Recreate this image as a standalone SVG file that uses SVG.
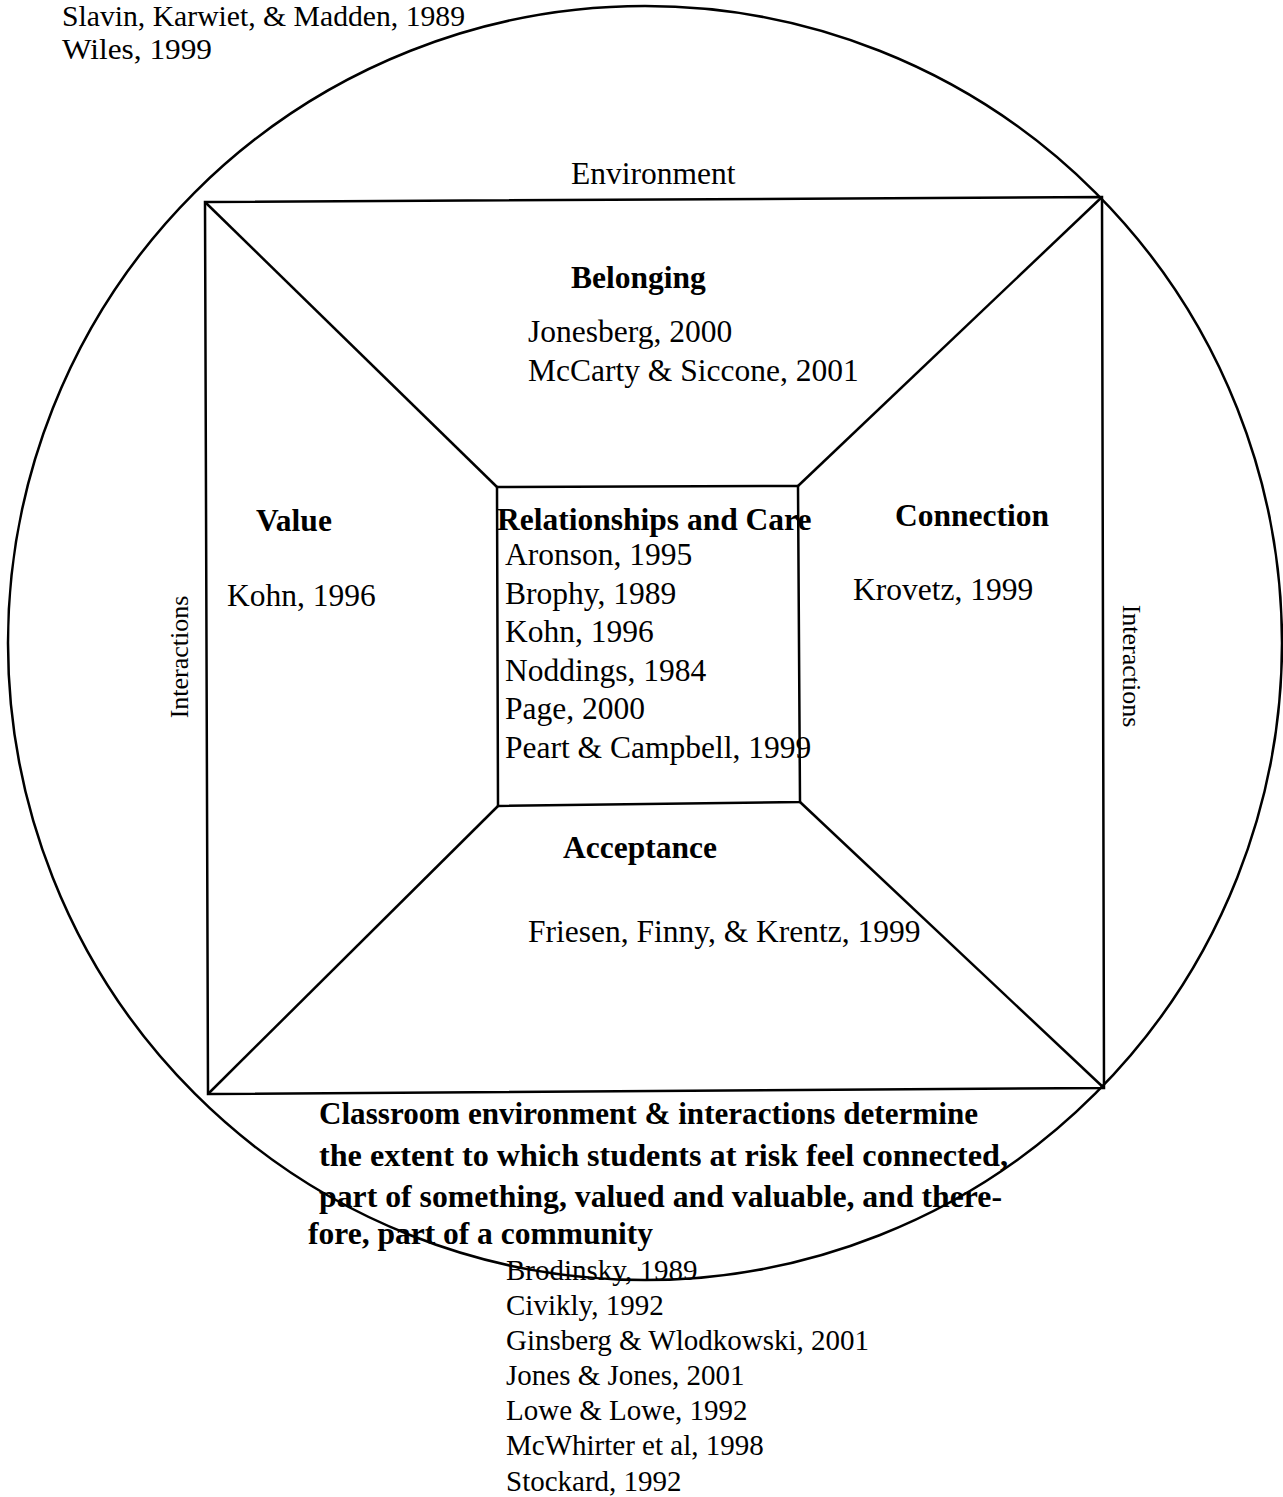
<svg xmlns="http://www.w3.org/2000/svg" width="1283" height="1497" viewBox="0 0 1283 1497">
<style>
.ln{stroke:#000;stroke-width:2.5;fill:none}
.t{font-family:"Liberation Serif","Times New Roman",serif;font-size:31.5px;fill:#000}
.b{font-family:"Liberation Serif","Times New Roman",serif;font-size:31.5px;font-weight:bold;fill:#000}
.s{font-family:"Liberation Serif","Times New Roman",serif;font-size:29px;fill:#000}
.r{font-family:"Liberation Serif","Times New Roman",serif;font-size:26px;fill:#000}
</style>
<rect width="1283" height="1497" fill="#fff"/>
<g id="connectors">
<ellipse class="ln" cx="645" cy="643" rx="637" ry="637"/>
<polygon class="ln" points="205,202 1102,197 1104,1088 208,1094"/>
<line class="ln" x1="205" y1="202" x2="497" y2="487"/>
<line class="ln" x1="1102" y1="197" x2="798" y2="486"/>
<line class="ln" x1="1104" y1="1088" x2="800" y2="802"/>
<line class="ln" x1="208" y1="1094" x2="498" y2="806"/>
</g>
<g id="center-box">
<polygon class="ln" points="497,487 798,486 800,802 498,806"/>
<text class="b" x="497" y="530">Relationships and Care</text>
<text class="t" x="505" y="565">Aronson, 1995</text>
<text class="t" x="505" y="604">Brophy, 1989</text>
<text class="t" x="505" y="642">Kohn, 1996</text>
<text class="t" x="505" y="681">Noddings, 1984</text>
<text class="t" x="505" y="719">Page, 2000</text>
<text class="t" x="505" y="758">Peart &amp; Campbell, 1999</text>
</g>
<g id="top-refs">
<text class="s" x="62" y="26" textLength="403" lengthAdjust="spacingAndGlyphs">Slavin, Karwiet, &amp; Madden, 1989</text>
<text class="s" x="62" y="59" textLength="150" lengthAdjust="spacingAndGlyphs">Wiles, 1999</text>
</g>
<g id="environment">
<text class="t" x="571" y="184">Environment</text>
</g>
<g id="belonging">
<text class="b" x="571" y="288">Belonging</text>
<text class="t" x="528" y="342">Jonesberg, 2000</text>
<text class="t" x="528" y="381">McCarty &amp; Siccone, 2001</text>
</g>
<g id="value">
<text class="b" x="256" y="531">Value</text>
<text class="t" x="227" y="606">Kohn, 1996</text>
</g>
<g id="connection">
<text class="b" x="895" y="526">Connection</text>
<text class="t" x="853" y="600">Krovetz, 1999</text>
</g>
<g id="acceptance">
<text class="b" x="563" y="858">Acceptance</text>
<text class="t" x="528" y="942">Friesen, Finny, &amp; Krentz, 1999</text>
</g>
<g id="interactions-left">
<text class="r" text-anchor="middle" transform="translate(188,657) rotate(-90)">Interactions</text>
</g>
<g id="interactions-right">
<text class="r" text-anchor="middle" transform="translate(1123,666) rotate(90)">Interactions</text>
</g>
<g id="summary">
<text class="b" x="319" y="1124" textLength="659" lengthAdjust="spacingAndGlyphs">Classroom environment &amp; interactions determine</text>
<text class="b" x="319" y="1166" textLength="689" lengthAdjust="spacingAndGlyphs">the extent to which students at risk feel connected,</text>
<text class="b" x="319" y="1207" textLength="683" lengthAdjust="spacingAndGlyphs">part of something, valued and valuable, and there-</text>
<text class="b" x="308" y="1244" textLength="345" lengthAdjust="spacingAndGlyphs">fore, part of a community</text>
</g>
<g id="bottom-refs">
<text class="s" x="506" y="1280">Brodinsky, 1989</text>
<text class="s" x="506" y="1315">Civikly, 1992</text>
<text class="s" x="506" y="1350">Ginsberg &amp; Wlodkowski, 2001</text>
<text class="s" x="506" y="1385">Jones &amp; Jones, 2001</text>
<text class="s" x="506" y="1420">Lowe &amp; Lowe, 1992</text>
<text class="s" x="506" y="1455">McWhirter et al, 1998</text>
<text class="s" x="506" y="1491">Stockard, 1992</text>
</g>
</svg>
